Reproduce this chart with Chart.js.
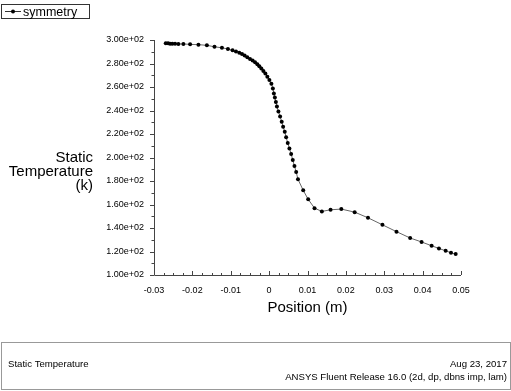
<!DOCTYPE html>
<html>
<head>
<meta charset="utf-8">
<script src="https://cdn.jsdelivr.net/npm/chart.js@4/dist/chart.umd.min.js"></script>
<style>
  html, body { margin: 0; padding: 0; background: #fff; }
  #wrap { width: 511px; height: 391px; }
</style>
</head>
<body>
<div id="wrap"><canvas id="tempChart" width="511" height="391"></canvas></div>
<script>
// data (position along symmetry line, static temperature)
var positionM = [-0.02694, -0.02634, -0.02582, -0.02522, -0.02451, -0.02365, -0.02234, -0.02059, -0.01842, -0.01622,
  -0.01424, -0.0123, -0.01073, -0.00953, -0.00864, -0.00778, -0.00707, -0.00639, -0.00569, -0.00498,
  -0.0043, -0.00367, -0.00307, -0.00255, -0.00203, -0.0015, -0.00098, -0.00046, 0.00007, 0.00059,
  0.00098, 0.00124, 0.0015, 0.00176, 0.00203, 0.00242, 0.00286, 0.00328, 0.00365, 0.00407,
  0.00443, 0.00485, 0.00529, 0.00574, 0.00616, 0.0066, 0.00705, 0.00752,
  0.00888, 0.01018, 0.01183, 0.01374, 0.01601, 0.01881, 0.02229, 0.02576, 0.02953, 0.03319,
  0.03675, 0.03973, 0.04234, 0.04425, 0.046, 0.04739, 0.04861];
var staticTemp = [297.2, 297.2, 296.8, 296.8, 296.8, 296.6, 296.6, 296.3, 296.0, 295.5,
  294.2, 293.4, 292.3, 291.2, 290.3, 289.1, 288.0, 286.9, 285.4, 283.9,
  282.6, 281.1, 279.4, 277.7, 275.7, 273.6, 271.4, 268.8, 265.9, 262.8,
  258.8, 254.5, 251.1, 247.2, 243.3, 239.1, 234.8, 230.5, 226.2, 221.9,
  217.2, 212.4, 207.7, 203.0, 197.9, 192.7, 187.6, 181.5,
  172.1, 164.4, 156.9, 154.1, 155.5, 156.1, 153.5, 148.7, 142.7, 136.9,
  131.5, 128.1, 124.9, 122.6, 120.6, 118.9, 117.8];
var seriesName = "symmetry";
var xTicks = [-0.03, -0.02, -0.01, 0, 0.01, 0.02, 0.03, 0.04, 0.05];
var yTicks = [100, 120, 140, 160, 180, 200, 220, 240, 260, 280, 300];
var yTitle = ["Static", "Temperature", "(k)"];
var xTitle = "Position (m)";
var footLeft = "Static Temperature";
var footDate = "Aug 23, 2017";
var footRelease = "ANSYS Fluent Release 16.0 (2d, dp, dbns imp, lam)";

Chart.defaults.font.family = "'Liberation Sans', Arial, sans-serif";
Chart.defaults.color = "#000";

function expLabel(v) {
  // 3.00e+02 style
  return v.toExponential(2).replace(/e([+-])(\d)$/, "e$10$2");
}

// minor/major ticks, titles, legend and footer, drawn like Fluent does
var fluentDecor = {
  id: "fluentDecor",
  afterDraw: function(chart) {
    var ctx = chart.ctx, a = chart.chartArea;
    var xs = chart.scales.x, ys = chart.scales.y;
    ctx.save();
    ctx.strokeStyle = "#444";
    ctx.lineWidth = 1;
    // axis lines
    ctx.beginPath();
    ctx.moveTo(a.left + 0.5, a.top);
    ctx.lineTo(a.left + 0.5, a.bottom + 0.5);
    ctx.lineTo(a.right, a.bottom + 0.5);
    ctx.stroke();
    // y ticks (outward)
    ctx.beginPath();
    for (var v = ys.min; v <= ys.max + 0.01; v += 10) {
      var py = Math.round(ys.getPixelForValue(v)) + 0.5;
      var len = (Math.round(v) % 20 === 0) ? 4 : 2.5;
      ctx.moveTo(a.left - len, py);
      ctx.lineTo(a.left, py);
    }
    ctx.stroke();
    // x ticks (inward)
    ctx.beginPath();
    for (var i = 0; i <= 32; i++) {
      var xv = xs.min + i * 0.0025;
      var px = Math.round(xs.getPixelForValue(xv)) + 0.5;
      var l2 = (i % 4 === 0) ? 4 : 2;
      ctx.moveTo(px, a.bottom);
      ctx.lineTo(px, a.bottom - l2);
    }
    ctx.stroke();

    // axis titles
    ctx.fillStyle = "#000";
    ctx.font = "15px 'Liberation Sans', Arial, sans-serif";
    ctx.textAlign = "right";
    ctx.textBaseline = "alphabetic";
    yTitle.forEach(function(t, k) { ctx.fillText(t, 93, 162 + k * 14); });
    ctx.textAlign = "center";
    ctx.fillText(xTitle, (a.left + a.right) / 2, 312);

    // legend box
    ctx.strokeStyle = "#333";
    ctx.strokeRect(1.5, 4.5, 88, 14);
    ctx.beginPath();
    ctx.moveTo(5, 11.5);
    ctx.lineTo(21, 11.5);
    ctx.stroke();
    ctx.beginPath();
    ctx.arc(13, 11.5, 2, 0, Math.PI * 2);
    ctx.fill();
    ctx.font = "12.5px 'Liberation Sans', Arial, sans-serif";
    ctx.textAlign = "left";
    ctx.fillText(seriesName, 23, 16);

    // footer
    ctx.strokeStyle = "#999";
    ctx.strokeRect(1.5, 342.5, 509, 47);
    ctx.font = "9.6px 'Liberation Sans', Arial, sans-serif";
    ctx.fillText(footLeft, 8, 367);
    ctx.textAlign = "right";
    ctx.fillText(footDate, 507, 367);
    ctx.fillText(footRelease, 507, 380);
    ctx.restore();
  }
};

var ctx = document.getElementById("tempChart").getContext("2d");
var chart = new Chart(ctx, {
  type: "scatter",
  data: {
    datasets: [{
      label: seriesName,
      data: positionM.map(function(x, i) { return { x: x, y: staticTemp[i] }; }),
      showLine: true,
      borderColor: "#666",
      borderWidth: 1,
      pointRadius: 2,
      pointBorderWidth: 0,
      pointBackgroundColor: "#000",
      tension: 0
    }]
  },
  options: {
    responsive: false,
    animation: false,
    layout: { padding: { left: 0, top: 40, right: 50, bottom: 0 } },
    plugins: { legend: { display: false }, tooltip: { enabled: false } },
    scales: {
      x: {
        type: "linear",
        min: xTicks[0],
        max: xTicks[xTicks.length - 1],
        afterBuildTicks: function(s) { s.ticks = xTicks.map(function(v) { return { value: v }; }); },
        afterFit: function(s) { s.height = 391 - 275; },
        grid: { display: false, drawTicks: false },
        border: { display: false },
        ticks: {
          padding: 10,
          font: { size: 9 },
          maxRotation: 0,
          callback: function(v) { return v === 0 ? "0" : String(+v.toFixed(2)); }
        }
      },
      y: {
        min: yTicks[0],
        max: yTicks[yTicks.length - 1],
        afterBuildTicks: function(s) { s.ticks = yTicks.map(function(v) { return { value: v }; }); },
        afterFit: function(s) { s.width = 154; },
        grid: { display: false, drawTicks: false },
        border: { display: false },
        ticks: {
          padding: 10,
          font: { size: 9 },
          callback: function(v) { return expLabel(v); }
        }
      }
    }
  },
  plugins: [fluentDecor]
});
</script>
</body>
</html>
